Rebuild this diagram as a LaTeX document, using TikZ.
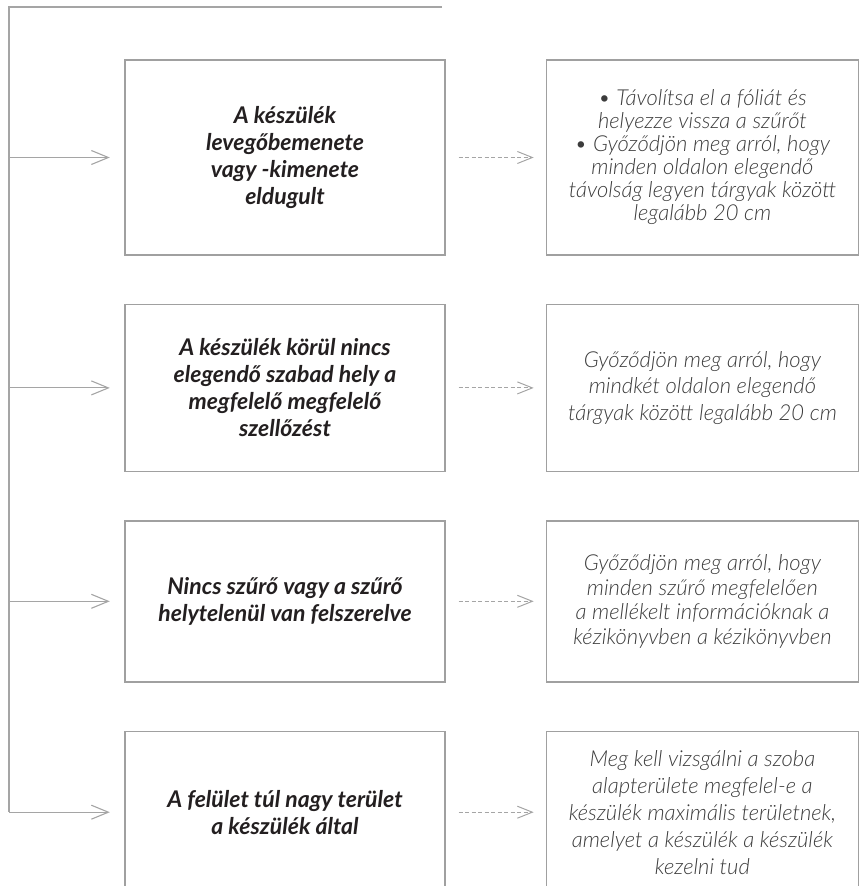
\documentclass[tikz,border=0pt]{standalone}
\usepackage{fontspec}
\setmainfont{Lato}
\newfontfamily\lightfont{Lato Light}[ItalicFont={Lato Light Italic}]
\usetikzlibrary{positioning,arrows.meta}
\definecolor{boxgray}{RGB}{160,160,160}
\definecolor{causetext}{RGB}{35,31,32}
\definecolor{fixtext}{RGB}{60,60,60}
\definecolor{arrowgray}{RGB}{165,165,165}

\begin{document}
\begin{tikzpicture}[
    x=1pt, y=1pt,
    cause/.style={rectangle, draw=boxgray, line width=1.4pt, minimum width=320pt, align=center, inner sep=0pt, text=causetext, font=\fontsize{23}{27}\selectfont\bfseries\itshape},
    fix/.style={rectangle, draw=boxgray, line width=1.4pt, minimum width=312pt, align=center, inner sep=0pt, text=fixtext, font=\lightfont\itshape\fontsize{22}{#1}\selectfont},
    feed/.style={-{Straight Barb[length=17pt, width=14pt]}, draw=arrowgray, line width=1.1pt, shorten >=14.5pt},
    hint/.style={-{Straight Barb[length=15pt, width=12pt]}, draw=arrowgray, line width=1pt, dash pattern=on 4pt off 2.5pt, shorten <=13pt, shorten >=12pt}
]
    \useasboundingbox (0,0) rectangle (859,-886);
    \clip (0,0) rectangle (859,-886);

    % Causes
    \node[cause, minimum height=195pt] (c1) at (285,-157.5) {A készülék\\levegőbemenete\\vagy -kimenete\\eldugult};
    \node[cause, minimum height=167pt, below=48pt of c1] (c2) {A készülék körül nincs\\elegendő szabad hely a\\megfelelő megfelelő\\szellőzést};
    \node[cause, minimum height=161pt, below=48pt of c2] (c3) {Nincs szűrő vagy a szűrő\\helytelenül van felszerelve};
    \node[cause, minimum height=162pt, below=48pt of c3] (c4) {A felület túl nagy terület\\a készülék által};

    % Remedies
    \node[fix=23, minimum height=195pt, right=100pt of c1] (r1) {• Távolítsa el a fóliát és\\helyezze vissza a szűrőt\\• Győződjön meg arról, hogy\\minden oldalon elegendő\\távolság legyen tárgyak között\\legalább 20 cm};
    \node[fix=26.5, minimum height=167pt, right=100pt of c2] (r2) {Győződjön meg arról, hogy\\mindkét oldalon elegendő\\tárgyak között legalább 20 cm};
    \node[fix=24.5, minimum height=161pt, right=100pt of c3] (r3) {Győződjön meg arról, hogy\\minden szűrő megfelelően\\a mellékelt információknak a\\kézikönyvben a kézikönyvben};
    \node[fix=27, minimum height=162pt, right=100pt of c4] (r4) {Meg kell vizsgálni a szoba\\alapterülete megfelel-e a\\készülék maximális területnek,\\amelyet a készülék a készülék\\kezelni tud};

    % Trunk
    \coordinate (top) at (442,-7);
    \coordinate (trunk) at (9,-7);
    \draw[draw=arrowgray, line width=1.1pt] (top) -- (trunk) -- (trunk |- c4);

    \draw[feed] (trunk |- c1) -- (c1.west);
    \draw[feed] (trunk |- c2) -- (c2.west);
    \draw[feed] (trunk |- c3) -- (c3.west);
    \draw[feed] (trunk |- c4) -- (c4.west);

    \draw[hint] (c1) -- (r1);
    \draw[hint] (c2) -- (r2);
    \draw[hint] (c3) -- (r3);
    \draw[hint] (c4) -- (r4);
\end{tikzpicture}
\end{document}
